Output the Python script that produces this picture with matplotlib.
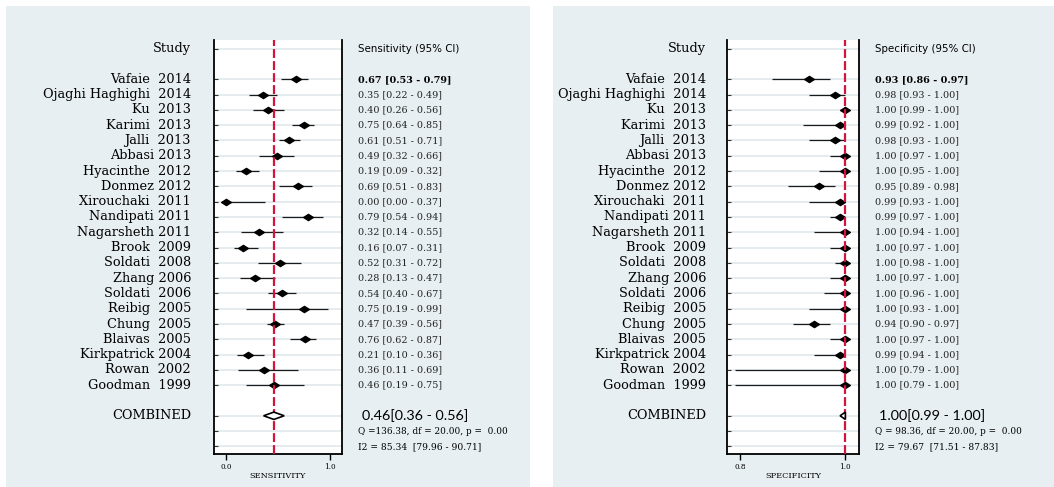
import numpy as np
import matplotlib.pyplot as plt
from matplotlib.path import Path
from matplotlib.patches import Rectangle, Polygon
from matplotlib.transforms import blended_transform_factory

studies = ['Vafaie  2014', 'Ojaghi Haghighi  2014', 'Ku  2013', 'Karimi  2013',
           'Jalli  2013', 'Abbasi 2013', 'Hyacinthe  2012', 'Donmez 2012',
           'Xirouchaki  2011', 'Nandipati 2011', 'Nagarsheth 2011', 'Brook  2009',
           'Soldati  2008', 'Zhang 2006', 'Soldati  2006', 'Reibig  2005',
           'Chung  2005', 'Blaivas  2005', 'Kirkpatrick 2004', 'Rowan  2002',
           'Goodman  1999']

sens = [0.67, 0.35, 0.40, 0.75, 0.61, 0.49, 0.19, 0.69, 0.00, 0.79, 0.32,
        0.16, 0.52, 0.28, 0.54, 0.75, 0.47, 0.76, 0.21, 0.36, 0.46]
sens_lo = [0.53, 0.22, 0.26, 0.64, 0.51, 0.32, 0.09, 0.51, 0.00, 0.54, 0.14,
           0.07, 0.31, 0.13, 0.40, 0.19, 0.39, 0.62, 0.10, 0.11, 0.19]
sens_hi = [0.79, 0.49, 0.56, 0.85, 0.71, 0.66, 0.32, 0.83, 0.37, 0.94, 0.55,
           0.31, 0.72, 0.47, 0.67, 0.99, 0.56, 0.87, 0.36, 0.69, 0.75]

spec = [0.93, 0.98, 1.00, 0.99, 0.98, 1.00, 1.00, 0.95, 0.99, 0.99, 1.00,
        1.00, 1.00, 1.00, 1.00, 1.00, 0.94, 1.00, 0.99, 1.00, 1.00]
spec_lo = [0.86, 0.93, 0.99, 0.92, 0.93, 0.97, 0.95, 0.89, 0.93, 0.97, 0.94,
           0.97, 0.98, 0.97, 0.96, 0.93, 0.90, 0.97, 0.94, 0.79, 0.79]
spec_hi = [0.97, 1.00, 1.00, 1.00, 1.00, 1.00, 1.00, 0.98, 1.00, 1.00, 1.00,
           1.00, 1.00, 1.00, 1.00, 1.00, 0.97, 1.00, 1.00, 1.00, 1.00]

pooled_sens = (0.46, 0.36, 0.56)
pooled_spec = (1.00, 0.99, 1.00)
sens_stats = ['Q =136.38, df = 20.00, p =  0.00', 'I2 = 85.34  [79.96 - 90.71]']
spec_stats = ['Q = 98.36, df = 20.00, p =  0.00', 'I2 = 79.67  [71.51 - 87.83]']

W, H = 1054, 487
BG = '#e8eff2'
GRID = '#e3ebee'
RED = '#d0153f'
SERIF = 'DejaVu Serif'
SANS = 'DejaVu Sans'

# wide, flat diamond used for the study estimates
diamond = Path([(-1, 0), (0, 0.64), (1, 0), (0, -0.64), (-1, 0)],
               [Path.MOVETO, Path.LINETO, Path.LINETO, Path.LINETO, Path.CLOSEPOLY])

fig = plt.figure(figsize=(W / 100, H / 100), dpi=100, facecolor='white')


def box(x0, y0, x1, y1):
    return [x0 / W, 1 - y1 / H, (x1 - x0) / W, (y1 - y0) / H]


def forest(bg_x, ax_x, lab_x, val_x, est, lo, hi, pooled, stats,
           xlim, xticks, xlabel, header):
    fig.patches.append(Rectangle((bg_x[0] / W, 0), (bg_x[1] - bg_x[0]) / W,
                                 1 - 6 / H, transform=fig.transFigure,
                                 facecolor=BG, edgecolor='none', zorder=-5))
    ax = fig.add_axes(box(ax_x[0], 40, ax_x[1], 454))
    ax.set_zorder(2)
    ax.set_facecolor('white')
    n = len(est)
    rows = np.arange(n)
    comb_row, q_row, i2_row, head_row = n + 1, n + 2, n + 3, -2

    ax.set_xlim(*xlim)
    ax.set_ylim(24.5, -2.57)
    yt = [head_row] + list(rows) + [comb_row, q_row, i2_row]
    ax.set_yticks(yt)
    ax.set_yticklabels([])
    ax.tick_params(axis='y', direction='in', length=3, width=0.8, color='#333333')
    ax.grid(axis='y', color=GRID, lw=1.3, zorder=0)
    ax.set_axisbelow(True)

    ax.set_xticks(xticks)
    ax.set_xticklabels(['%.1f' % t for t in xticks], fontsize=5.2, family=SERIF)
    ax.tick_params(axis='x', direction='out', length=4, width=1, pad=2.5)
    ax.set_xlabel(xlabel, fontsize=5.9, family=SERIF, labelpad=0.5)
    ax.spines['top'].set_visible(False)
    for s in ('left', 'right', 'bottom'):
        ax.spines[s].set_linewidth(1.3)

    ax.axvline(pooled[0], color=RED, lw=1.6, dashes=(4, 1.4), zorder=4)
    ax.hlines(rows, lo, hi, color='#1a1a1a', lw=0.9, zorder=2)
    ax.plot(est, rows, ls='none', marker=diamond, ms=7, color='black', zorder=3)

    p, plo, phi = pooled
    ax.add_patch(Polygon([(plo, comb_row), (p, comb_row - 0.24),
                          (phi, comb_row), (p, comb_row + 0.24)],
                         closed=True, facecolor='white', edgecolor='black',
                         lw=1.2, zorder=5))

    tr = blended_transform_factory(fig.transFigure, ax.transData)
    ax.text(lab_x / W, head_row, 'Study', transform=tr, ha='right', va='center',
            family=SERIF, fontsize=9.3)
    ax.text(val_x / W, head_row, header, transform=tr, ha='left', va='center',
            family=SANS, fontsize=7.4)
    for i in rows:
        ax.text(lab_x / W, i, studies[i], transform=tr, ha='right', va='center',
                family=SERIF, fontsize=9.3)
        ax.text(val_x / W, i, '%.2f [%.2f - %.2f]' % (est[i], lo[i], hi[i]),
                transform=tr, ha='left', va='center', family=SERIF, fontsize=6.9,
                fontweight='bold' if i == 0 else 'normal',
                color='black' if i == 0 else '#222222')
    ax.text(lab_x / W, comb_row, 'COMBINED', transform=tr, ha='right',
            va='center', family=SERIF, fontsize=9.3)
    ax.text((val_x + 4) / W, comb_row, '%.2f[%.2f - %.2f]' % pooled,
            transform=tr, ha='left', va='center', family='Lato', fontsize=10.4)
    ax.text(val_x / W, q_row, stats[0], transform=tr, ha='left', va='center',
            family=SERIF, fontsize=6.4)
    ax.text(val_x / W, i2_row, stats[1], transform=tr, ha='left', va='center',
            family=SERIF, fontsize=6.6)
    return ax


forest((6, 530), (214, 342), 191, 358, sens, sens_lo, sens_hi, pooled_sens,
       sens_stats, (-0.121, 1.121), [0.0, 1.0], 'SENSITIVITY',
       'Sensitivity (95% CI)')
forest((553, 1054), (727, 859), 706, 875, spec, spec_lo, spec_hi, pooled_spec,
       spec_stats, (0.7745, 1.026), [0.8, 1.0], 'SPECIFICITY',
       'Specificity (95% CI)')

fig.savefig('out.png', dpi=100, facecolor='white')
